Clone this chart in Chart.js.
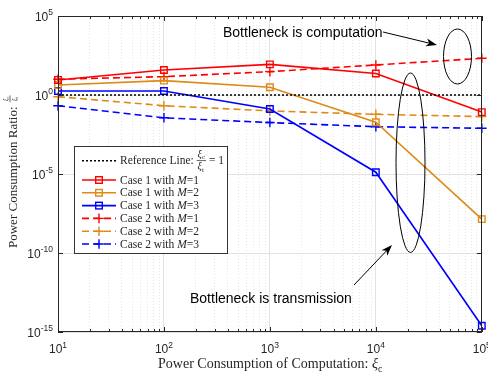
<!DOCTYPE html>
<html>
<head>
<meta charset="utf-8">
<script src="https://cdn.jsdelivr.net/npm/chart.js@4.4.1/dist/chart.umd.min.js"></script>
<style>
html, body { margin: 0; padding: 0; background: #fff; }
#wrap { width: 488px; height: 373px; }
</style>
</head>
<body>
<div id="wrap"><canvas id="chart" width="488" height="373"></canvas></div>
<script>
// values (log scales)
var xiC = [10, 100, 1000, 10000, 100000];
var refLine = [1, 1, 1, 1, 1];
var case1M1 = [9, 38, 87, 23, 0.083];
var case1M2 = [4.3, 8.1, 3.1, 0.019, 1.4e-8];
var case1M3 = [1.8, 1.8, 0.13, 1.3e-5, 2.5e-15];
var case2M1 = [10, 14.5, 30, 80, 210];
var case2M2 = [0.78, 0.21, 0.098, 0.06, 0.043];
var case2M3 = [0.21, 0.036, 0.018, 0.0098, 0.0078];
var yTicks = [1e-15, 1e-10, 1e-5, 1, 1e5];
var xDecades = [1, 2, 3, 4, 5];

var RED = '#ff0000', ORANGE = '#dd8a17', BLUE = '#0000ff';
var SERIF = '"Liberation Serif", "DejaVu Serif", serif';
var SANS = '"Liberation Sans", Arial, sans-serif';

var xTicks = [];
xDecades.forEach(function(d) {
    if (d == 5) { xTicks.push(1e5); return; }
    for (var k = 1; k < 10; k++) xTicks.push(k * Math.pow(10, d));
});

function isDecade(v) {
    var l = Math.log10(v);
    return Math.abs(l - Math.round(l)) < 1e-9;
}
function pts(arr) {
    return xiC.map(function(x, i) { return {x: x, y: arr[i]}; });
}
function series(label, arr, color, dash, style) {
    return {
        label: label,
        data: pts(arr),
        borderColor: color,
        backgroundColor: 'rgba(0,0,0,0)',
        borderWidth: 1.6,
        borderDash: dash,
        pointStyle: style,
        pointRadius: style ? (style == 'rect' ? 4.6 : 4.8) : 0,
        pointBorderWidth: 1.4,
        pointBorderColor: color,
        pointBackgroundColor: 'rgba(0,0,0,0)',
        tension: 0,
        clip: false
    };
}

// "10" with a raised exponent; align: 'center' or 'right'
function powLabel(ctx, exp, x, y, align) {
    ctx.font = '12px ' + SANS;
    var w1 = ctx.measureText('10').width;
    ctx.font = '8.5px ' + SANS;
    var w2 = ctx.measureText(String(exp)).width;
    var sx = align == 'right' ? x - w1 - w2 : x - (w1 + w2) / 2;
    ctx.font = '12px ' + SANS;
    ctx.fillText('10', sx, y);
    ctx.font = '8.5px ' + SANS;
    ctx.fillText(String(exp), sx + w1, y - 5.5);
}
// xi with a subscript, returns width drawn
function drawXi(ctx, x, y, sub, size) {
    ctx.font = 'italic ' + size + 'px ' + SERIF;
    ctx.fillText('ξ', x, y);
    var w = ctx.measureText('ξ').width;
    ctx.font = (size * 0.7) + 'px ' + SERIF;
    ctx.fillText(sub, x + w, y + size * 0.25);
    return w + ctx.measureText(sub).width;
}
function drawFrac(ctx, x, yBar, size) {
    ctx.font = 'italic ' + size + 'px ' + SERIF;
    var w = ctx.measureText('ξ').width;
    ctx.font = (size * 0.7) + 'px ' + SERIF;
    var w2 = Math.max(ctx.measureText('c').width, ctx.measureText('t').width);
    var tw = w + w2 + 2;
    drawXi(ctx, x + 1, yBar - size * 0.3 - 1, 'c', size);
    drawXi(ctx, x + 1, yBar + size * 0.75 + 1, 't', size);
    ctx.fillRect(x, yBar - 0.35, tw, 0.7);
    return tw;
}
function arrow(ctx, x1, y1, x2, y2) {
    var a = Math.atan2(y2 - y1, x2 - x1);
    ctx.beginPath();
    ctx.moveTo(x1, y1);
    ctx.lineTo(x2 - 6 * Math.cos(a), y2 - 6 * Math.sin(a));
    ctx.stroke();
    ctx.beginPath();
    ctx.moveTo(x2, y2);
    ctx.lineTo(x2 - 11 * Math.cos(a) + 4 * Math.sin(a), y2 - 11 * Math.sin(a) - 4 * Math.cos(a));
    ctx.lineTo(x2 - 8 * Math.cos(a), y2 - 8 * Math.sin(a));
    ctx.lineTo(x2 - 11 * Math.cos(a) - 4 * Math.sin(a), y2 - 11 * Math.sin(a) + 4 * Math.cos(a));
    ctx.closePath();
    ctx.fill();
}

var decor = {
    id: 'decor',
    afterDraw: function(chart) {
        var ctx = chart.ctx, a = chart.chartArea;
        var xs = chart.scales.x, ys = chart.scales.y;
        ctx.save();
        // box + inward ticks
        ctx.strokeStyle = '#262626';
        ctx.lineWidth = 1;
        ctx.strokeRect(Math.round(a.left) + 0.5, Math.round(a.top) + 0.5,
                       Math.round(a.right - a.left) - 1, Math.round(a.bottom - a.top) - 1);
        ctx.beginPath();
        xTicks.forEach(function(v) {
            var px = Math.round(xs.getPixelForValue(v)) + 0.5;
            var len = isDecade(v) ? 5 : 3;
            ctx.moveTo(px, a.bottom); ctx.lineTo(px, a.bottom - len);
            ctx.moveTo(px, a.top); ctx.lineTo(px, a.top + len);
        });
        yTicks.forEach(function(v) {
            var py = Math.round(ys.getPixelForValue(v)) + 0.5;
            ctx.moveTo(a.left, py); ctx.lineTo(a.left + 5, py);
            ctx.moveTo(a.right, py); ctx.lineTo(a.right - 5, py);
        });
        ctx.stroke();

        // tick labels
        ctx.fillStyle = '#262626';
        ctx.textBaseline = 'alphabetic';
        xTicks.forEach(function(v) {
            if (isDecade(v)) powLabel(ctx, Math.round(Math.log10(v)), xs.getPixelForValue(v), 353, 'center');
        });
        yTicks.forEach(function(v) {
            powLabel(ctx, Math.round(Math.log10(v)), 53, ys.getPixelForValue(v) + 4.5, 'right');
        });

        // annotations
        ctx.strokeStyle = '#000';
        ctx.fillStyle = '#000';
        ctx.lineWidth = 1;
        ctx.beginPath();
        ctx.ellipse(457.5, 56.5, 14, 27.5, 0, 0, Math.PI * 2);
        ctx.stroke();
        ctx.beginPath();
        ctx.ellipse(410.5, 162.7, 14.5, 89.7, 0, 0, Math.PI * 2);
        ctx.stroke();
        arrow(ctx, 383, 32, 437, 45);
        arrow(ctx, 354, 285, 392, 245);
        ctx.font = '14px ' + SANS;
        ctx.fillText('Bottleneck is computation', 223, 37);
        ctx.fillText('Bottleneck is transmission', 190, 303);

        // legend
        var lx = 74.5, ly = 146.5, lw = 153, lh = 107;
        ctx.fillStyle = '#fff';
        ctx.fillRect(lx, ly, lw, lh);
        ctx.strokeStyle = '#333';
        ctx.strokeRect(lx, ly, lw, lh);
        var rows = [160.7, 180, 192.8, 205.6, 218.4, 231.2, 244];
        chart.data.datasets.forEach(function(ds, i) {
            var ry = rows[i];
            ctx.save();
            ctx.strokeStyle = ds.borderColor;
            ctx.lineWidth = ds.borderWidth;
            ctx.setLineDash(ds.borderDash || []);
            ctx.beginPath();
            ctx.moveTo(82, ry); ctx.lineTo(116, ry);
            ctx.stroke();
            ctx.setLineDash([]);
            ctx.lineWidth = ds.pointBorderWidth;
            if (ds.pointStyle == 'rect') {
                ctx.strokeRect(99 - 3.3, ry - 3.3, 6.6, 6.6);
            } else if (ds.pointStyle == 'cross') {
                ctx.beginPath();
                ctx.moveTo(99 - 4.8, ry); ctx.lineTo(99 + 4.8, ry);
                ctx.moveTo(99, ry - 4.8); ctx.lineTo(99, ry + 4.8);
                ctx.stroke();
            }
            ctx.restore();
            ctx.fillStyle = '#262626';
            ctx.font = '11.5px ' + SERIF;
            if (i == 0) {
                var t = 'Reference Line: ';
                ctx.fillText(t, 120, ry + 3.5);
                var fx = 120 + ctx.measureText(t).width;
                var fw = drawFrac(ctx, fx, ry, 10);
                ctx.font = '11.5px ' + SERIF;
                ctx.fillText(' = 1', fx + fw, ry + 3.5);
            } else {
                var parts = ds.label.split('M=');
                ctx.fillText(parts[0], 120, ry + 3.5);
                var px2 = 120 + ctx.measureText(parts[0]).width;
                ctx.font = 'italic 11.5px ' + SERIF;
                ctx.fillText('M', px2, ry + 3.5);
                px2 += ctx.measureText('M').width;
                ctx.font = '11.5px ' + SERIF;
                ctx.fillText('=' + parts[1], px2, ry + 3.5);
            }
        });

        // axis titles
        ctx.fillStyle = '#262626';
        ctx.font = '14px ' + SERIF;
        var xt = 'Power Consumption of Computation: ';
        var xw = ctx.measureText(xt).width;
        ctx.font = 'italic 14px ' + SERIF;
        var tot = xw + ctx.measureText('ξ').width + 6;
        var sx = 271 - tot / 2;
        ctx.font = '14px ' + SERIF;
        ctx.fillText(xt, sx, 368);
        drawXi(ctx, sx + xw, 368, 'c', 14);

        ctx.translate(17, 248);
        ctx.rotate(-Math.PI / 2);
        ctx.font = '13px ' + SERIF;
        var yt = 'Power Consumption Ratio: ';
        ctx.fillText(yt, 0, 0);
        drawFrac(ctx, ctx.measureText(yt).width + 1, -7, 6.5);
        ctx.restore();
    }
};

var ctx = document.getElementById('chart').getContext('2d');
var chart = new Chart(ctx, {
    type: 'line',
    data: {
        datasets: [
            series('Reference Line', refLine, '#000000', [2, 2], false),
            series('Case 1 with M=1', case1M1, RED, [], 'rect'),
            series('Case 1 with M=2', case1M2, ORANGE, [], 'rect'),
            series('Case 1 with M=3', case1M3, BLUE, [], 'rect'),
            series('Case 2 with M=1', case2M1, RED, [7, 4], 'cross'),
            series('Case 2 with M=2', case2M2, ORANGE, [7, 4], 'cross'),
            series('Case 2 with M=3', case2M3, BLUE, [7, 4], 'cross')
        ]
    },
    options: {
        responsive: false,
        animation: false,
        layout: { padding: { top: 16, right: 4, left: 0, bottom: 0 } },
        plugins: { legend: { display: false }, tooltip: { enabled: false } },
        scales: {
            x: {
                type: 'logarithmic',
                min: 10,
                max: 100000,
                afterBuildTicks: function(s) {
                    s.ticks = xTicks.map(function(v) { return {value: v, major: isDecade(v)}; });
                },
                afterFit: function(s) {
                    s.height = 41;
                    s.paddingLeft = 0;
                    s.paddingRight = 0;
                },
                ticks: { display: false, autoSkip: false },
                grid: {
                    drawTicks: false,
                    color: function(c) { return c.tick && isDecade(c.tick.value) ? '#e2e2e2' : '#e6e6e6'; },
                    lineWidth: 1
                },
                border: {
                    display: false,
                    dash: function(c) { return c.tick && !isDecade(c.tick.value) ? [1, 2] : []; }
                }
            },
            y: {
                type: 'logarithmic',
                min: 1e-15,
                max: 1e5,
                afterBuildTicks: function(s) {
                    s.ticks = yTicks.map(function(v) { return {value: v}; });
                },
                afterFit: function(s) {
                    s.width = 58;
                    s.paddingTop = 0;
                    s.paddingBottom = 0;
                },
                ticks: { display: false, autoSkip: false },
                grid: { drawTicks: false, color: '#e2e2e2', lineWidth: 1 },
                border: { display: false }
            }
        }
    },
    plugins: [decor]
});
</script>
</body>
</html>
